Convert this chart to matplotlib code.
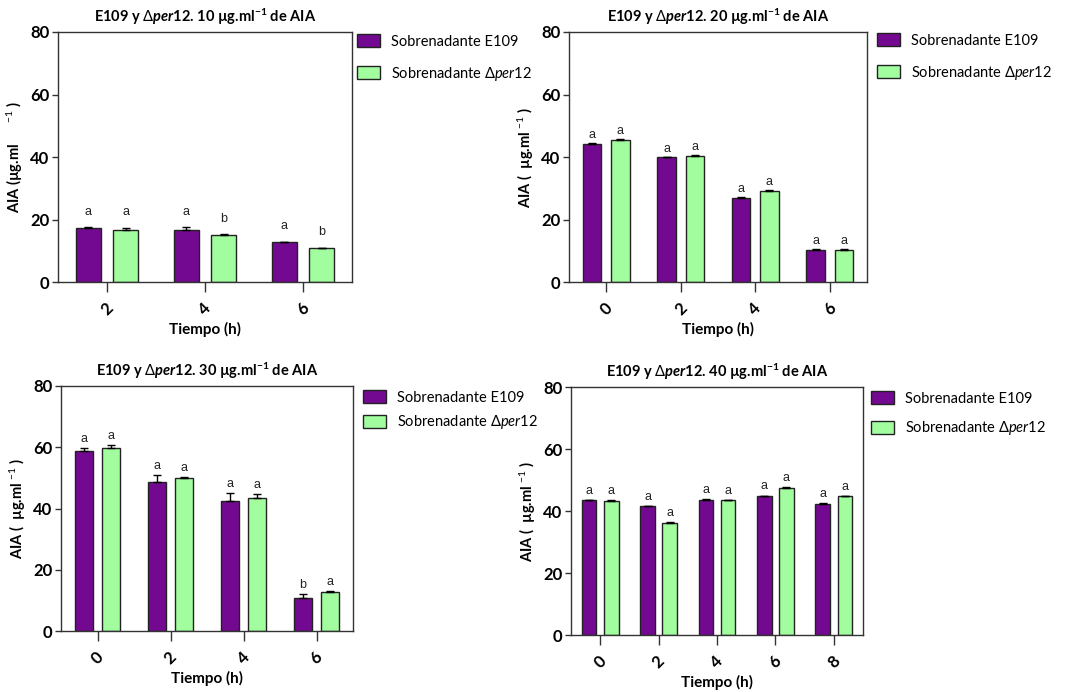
import matplotlib
matplotlib.use('Agg')
import matplotlib.pyplot as plt
import numpy as np

FONT = 'Lato'
plt.rcParams['font.family'] = [FONT, 'DejaVu Sans']
plt.rcParams['mathtext.fontset'] = 'custom'
plt.rcParams['mathtext.rm'] = FONT
plt.rcParams['mathtext.it'] = FONT + ':italic'
plt.rcParams['mathtext.bf'] = FONT + ':bold'
plt.rcParams['mathtext.bfit'] = FONT + ':italic:bold'

PURPLE = '#730991'
GREEN = '#A2FD9F'

# data (AIA, ug/ml)
t_10 = ['2', '4', '6']
e109_10 = [17.3, 16.7, 12.7]
e109_10_err = [0.3, 0.9, 0.2]
per12_10 = [16.8, 14.9, 10.8]
per12_10_err = [0.6, 0.5, 0.2]
let_e109_10 = ['a', 'a', 'a']
let_per12_10 = ['a', 'b', 'b']

t_20 = ['0', '2', '4', '6']
e109_20 = [44.2, 39.9, 26.9, 10.4]
e109_20_err = [0.2, 0.1, 0.2, 0.1]
per12_20 = [45.6, 40.3, 29.2, 10.4]
per12_20_err = [0.1, 0.2, 0.1, 0.1]
let_e109_20 = ['a', 'a', 'a', 'a']
let_per12_20 = ['a', 'a', 'a', 'a']

t_30 = ['0', '2', '4', '6']
e109_30 = [58.7, 48.8, 42.4, 10.8]
e109_30_err = [1.2, 2.2, 2.5, 1.3]
per12_30 = [59.7, 49.9, 43.4, 12.7]
per12_30_err = [1.1, 0.5, 1.3, 0.5]
let_e109_30 = ['a', 'a', 'a', 'b']
let_per12_30 = ['a', 'a', 'a', 'a']

t_40 = ['0', '2', '4', '6', '8']
e109_40 = [43.4, 41.5, 43.7, 44.8, 42.4]
e109_40_err = [0.1, 0.1, 0.2, 0.2, 0.2]
per12_40 = [43.2, 36.0, 43.6, 47.4, 44.7]
per12_40_err = [0.2, 0.3, 0.1, 0.2, 0.2]
let_e109_40 = ['a', 'a', 'a', 'a', 'a']
let_per12_40 = ['a', 'a', 'a', 'a', 'a']

W, H = 1065, 692
fig = plt.figure(figsize=(W / 100, H / 100), dpi=100)


def px_axes(l, t, r, b):
    return fig.add_axes([l / W, 1 - b / H, (r - l) / W, (b - t) / H])


def panel(box, conc, times, e, e_err, p, p_err, le, lp, ylab, let_pad, leg_xy, leg_space):
    ax = px_axes(*box)
    x = np.arange(len(times))
    w, off = 0.25, 0.19
    for xs, vals, errs, col, lab, lets in [
            (x - off, e, e_err, PURPLE, 'Sobrenadante E109', le),
            (x + off, p, p_err, GREEN, r'Sobrenadante $\Delta\mathit{per}$12', lp)]:
        ax.bar(xs, vals, w, color=col, edgecolor='#222222', linewidth=1.0, label=lab)
        ax.errorbar(xs, vals, yerr=[np.zeros(len(vals)), errs], fmt='none',
                    ecolor='black', elinewidth=1.0, capsize=3.2, capthick=1.0)
        for xi, v, er, s in zip(xs, vals, errs, lets):
            ax.annotate(s, (xi, v + er), xytext=(0, let_pad), textcoords='offset points',
                        ha='center', va='center', fontsize=9, family='Liberation Sans',
                        color='#222222')
    ax.set_xlim(-0.5, len(times) - 0.5)
    ax.set_ylim(0, 80)
    ax.set_yticks([0, 20, 40, 60, 80])
    ax.set_xticks(x)
    ax.set_xticklabels(times, rotation=45, ha='center', va='top',
                       fontweight='bold', fontsize=12)
    for lbl in ax.get_yticklabels():
        lbl.set_fontweight('bold')
        lbl.set_fontsize(12)
    ax.tick_params(axis='x', length=7, width=1, pad=6, color='#333333')
    ax.tick_params(axis='y', length=4, width=1, pad=2, color='#333333')
    for sp in ax.spines.values():
        sp.set_linewidth(1.0)
        sp.set_color('#333333')
    ax.set_xlabel('Tiempo (h)', fontweight='bold', fontsize=11, labelpad=3)
    ax.set_ylabel(ylab, fontweight='bold', fontsize=10.5, labelpad=4)
    ax.set_title(r'E109 y $\Delta\mathbfit{per}$12. ' + conc +
                 r' µg.ml$^{\mathbf{-1}}$ de AIA',
                 fontweight='bold', fontsize=10.5, pad=7)
    ax.legend(loc='upper left', bbox_to_anchor=(leg_xy[0] / W, 1 - leg_xy[1] / H),
              bbox_transform=fig.transFigure, frameon=False, borderpad=0,
              borderaxespad=0, fontsize=10.5, handlelength=1.55, handleheight=1.0,
              handletextpad=0.75, labelspacing=leg_space)
    return ax


panel((58, 32, 352, 282), '10', t_10, e109_10, e109_10_err, per12_10, per12_10_err,
      let_e109_10, let_per12_10, r'AIA (µg.ml      $^{-1}$ )', 11, (357, 34), 1.1)
panel((569, 32, 867, 282), '20', t_20, e109_20, e109_20_err, per12_20, per12_20_err,
      let_e109_20, let_per12_20, r'AIA (  µg.ml $^{-1}$ )', 6, (877, 33), 1.1)
panel((61, 386, 353, 631), '30', t_30, e109_30, e109_30_err, per12_30, per12_30_err,
      let_e109_30, let_per12_30, r'AIA (  µg.ml $^{-1}$ )', 6.5, (363, 390), 0.6)
panel((571, 387, 863, 635), '40', t_40, e109_40, e109_40_err, per12_40, per12_40_err,
      let_e109_40, let_per12_40, r'AIA (  µg.ml $^{-1}$ )', 6.5, (871, 391), 0.95)

fig.savefig('out.png', dpi=100)
